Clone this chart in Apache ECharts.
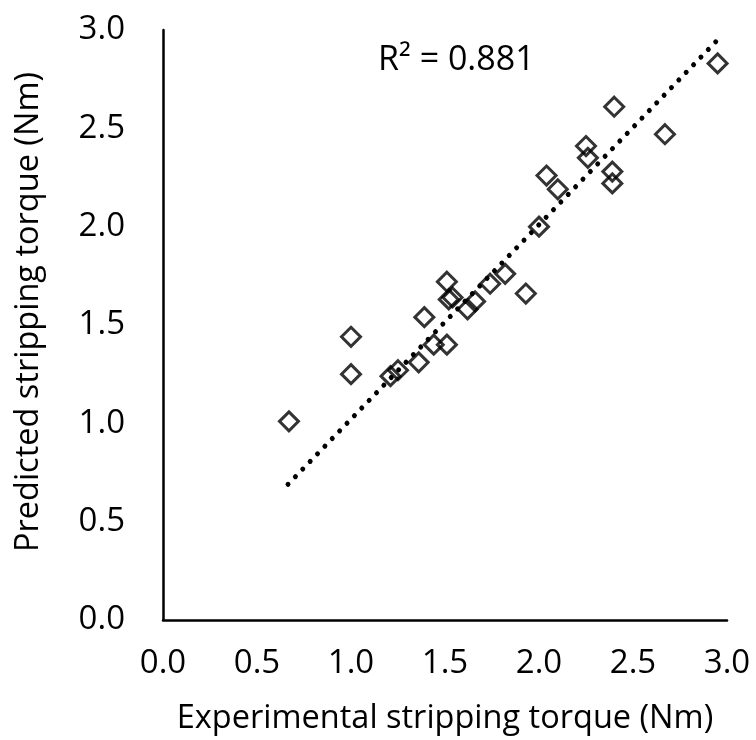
<!DOCTYPE html>
<html>
<head>
<meta charset="utf-8">
<script src="https://cdn.jsdelivr.net/npm/echarts@6/dist/echarts.min.js"></script>
<style>html,body{margin:0;padding:0;background:#fff;}#c{width:756px;height:740px;}</style>
</head>
<body>
<div id="c"></div>
<script>
// Experimental (x) and predicted (y) stripping torque, Nm
const experimental = [0.67, 1.00, 1.00, 1.21, 1.25, 1.36, 1.39, 1.44, 1.51, 1.51, 1.52, 1.54, 1.62, 1.66, 1.74, 1.82, 1.93, 2.00, 2.04, 2.10, 2.25, 2.26, 2.40, 2.39, 2.39, 2.67, 2.95];
const predicted    = [1.01, 1.44, 1.25, 1.24, 1.27, 1.31, 1.54, 1.40, 1.72, 1.40, 1.63, 1.64, 1.58, 1.62, 1.71, 1.76, 1.66, 2.00, 2.26, 2.19, 2.41, 2.35, 2.61, 2.28, 2.22, 2.47, 2.83];
// dotted trendline end points (as drawn in the original figure)
const trendX = [0.665, 2.94];
const trendY = [0.69, 2.94];
const axisTicks = [0.0, 0.5, 1.0, 1.5, 2.0, 2.5, 3.0];
const r2Label = 'R\u00B2 = 0.881';
const xTitle = 'Experimental stripping torque (Nm)';
const yTitle = 'Predicted stripping torque (Nm)';

const font = '"Open Sans", Lato, sans-serif';
const chart = echarts.init(document.getElementById('c'));
chart.setOption({
  animation: false,
  backgroundColor: '#fff',
  grid: { left: 163, right: 29, top: 30, bottom: 113 },
  xAxis: {
    type: 'value', min: axisTicks[0], max: axisTicks[axisTicks.length - 1], interval: 0.5,
    axisLine: { show: true, lineStyle: { color: '#000', width: 2.5 } },
    axisTick: { show: false }, splitLine: { show: false },
    axisLabel: { color: '#000', fontSize: 33, fontFamily: font, margin: 27, formatter: v => v.toFixed(1) },
    name: xTitle, nameLocation: 'middle', nameGap: 82,
    nameTextStyle: { color: '#000', fontSize: 32.5, fontFamily: font }
  },
  yAxis: {
    type: 'value', min: axisTicks[0], max: axisTicks[axisTicks.length - 1], interval: 0.5,
    axisLine: { show: true, lineStyle: { color: '#000', width: 2.5 } },
    axisTick: { show: false }, splitLine: { show: false },
    axisLabel: { color: '#000', fontSize: 33, fontFamily: font, margin: 38, formatter: v => v.toFixed(1) },
    name: yTitle, nameLocation: 'middle', nameGap: 118,
    nameTextStyle: { color: '#000', fontSize: 32.5, fontFamily: font, padding: [0, 0, 0, 26] }
  },
  graphic: [{
    type: 'text', left: 378, top: 43,
    style: { text: r2Label, fill: '#000', font: '34px ' + font }
  }],
  series: [{
    type: 'line', data: trendX.map((x, i) => [x, trendY[i]]), symbol: 'none', z: 1,
    lineStyle: { color: '#000', width: 5, type: [0.01, 10.6], cap: 'round' }
  }, {
    type: 'scatter', z: 2,
    data: experimental.map((x, i) => [x, predicted[i]]),
    symbol: 'diamond', symbolSize: [19, 19],
    itemStyle: { color: 'rgba(255,255,255,0)', borderColor: '#000', borderWidth: 3 }
  }]
});
</script>
</body>
</html>
